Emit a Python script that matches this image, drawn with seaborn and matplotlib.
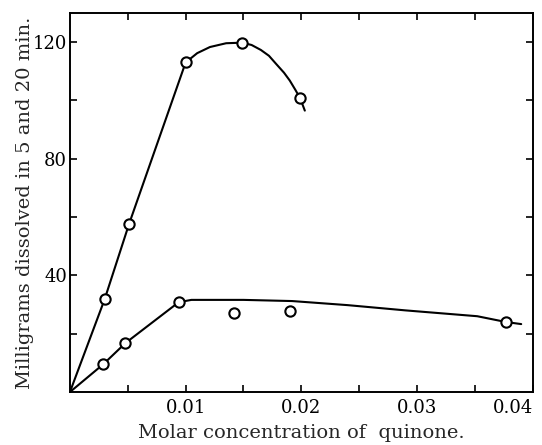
import matplotlib
matplotlib.use("Agg")
import matplotlib.pyplot as plt
import seaborn as sns
import pandas as pd

# measured points (open circles)
upper_x = [0.0030, 0.0051, 0.0100, 0.0149, 0.0199]
upper_y = [31.8, 57.5, 113.0, 119.8, 100.7]
lower_x = [0.0029, 0.0048, 0.0094, 0.0142, 0.0190, 0.0377]
lower_y = [9.6, 16.8, 30.8, 27.0, 27.7, 24.0]

# hand-drawn curves
upper_curve_x = [0.0, 0.0030, 0.0051, 0.0100, 0.0110, 0.0121, 0.0135, 0.0149,
                 0.0157, 0.0165, 0.0172, 0.0178, 0.0185, 0.0190, 0.0195, 0.0199, 0.0203]
upper_curve_y = [0.0, 31.8, 57.5, 113.0, 116.2, 118.3, 119.6, 119.8,
                 119.0, 117.3, 115.3, 112.6, 109.5, 106.8, 103.5, 100.7, 96.5]
lower_curve_x = [0.0, 0.0029, 0.0048, 0.0094, 0.0105, 0.0150, 0.0192, 0.0240, 0.0290, 0.0352, 0.0377, 0.0390]
lower_curve_y = [0.0, 9.6, 16.8, 30.8, 31.6, 31.6, 31.2, 29.8, 28.0, 26.0, 24.0, 23.3]

x_ticks = [0.01, 0.02, 0.03, 0.04]
x_ticklabels = ["0.01", "0.02", "0.03", "0.04"]
y_ticks = [40, 80, 120]

sns.set_style("ticks")
plt.rcParams["font.family"] = ["DejaVu Serif"]

fig = plt.figure(figsize=(5.42, 4.45), dpi=100)
ax = fig.add_axes([0.129, 0.119, 0.854, 0.852])

for cx, cy in [(upper_curve_x, upper_curve_y), (lower_curve_x, lower_curve_y)]:
    sns.lineplot(data=pd.DataFrame({"x": cx, "y": cy}), x="x", y="y", sort=False,
                 color="black", linewidth=1.5, ax=ax, estimator=None)

pts = pd.DataFrame({"x": upper_x + lower_x, "y": upper_y + lower_y})
sns.scatterplot(data=pts, x="x", y="y", ax=ax, s=55, facecolor="white",
                edgecolor="black", linewidth=1.5, zorder=5)

ax.set_xlim(0, 0.04)
ax.set_ylim(0, 130)
ax.set_xticks(x_ticks)
ax.set_xticklabels(x_ticklabels)
ax.set_xticks([0.005, 0.015, 0.025, 0.035], minor=True)
ax.set_yticks(y_ticks)
ax.set_yticks([20, 60, 100], minor=True)
ax.tick_params(which="both", direction="in", top=True, right=True, length=5,
               width=1.2, labelsize=13, colors="black")
ax.tick_params(axis="x", pad=5)
ax.tick_params(axis="y", pad=2)
ax.get_xticklabels()[-1].set_horizontalalignment("right")
for s in ax.spines.values():
    s.set_linewidth(1.4)
    s.set_color("black")

ax.set_xlabel("Molar concentration of  quinone.", fontsize=14, labelpad=5)
ax.set_ylabel("Milligrams dissolved in 5 and 20 min.", fontsize=14, labelpad=-1)

fig.savefig("out.png", dpi=100)
